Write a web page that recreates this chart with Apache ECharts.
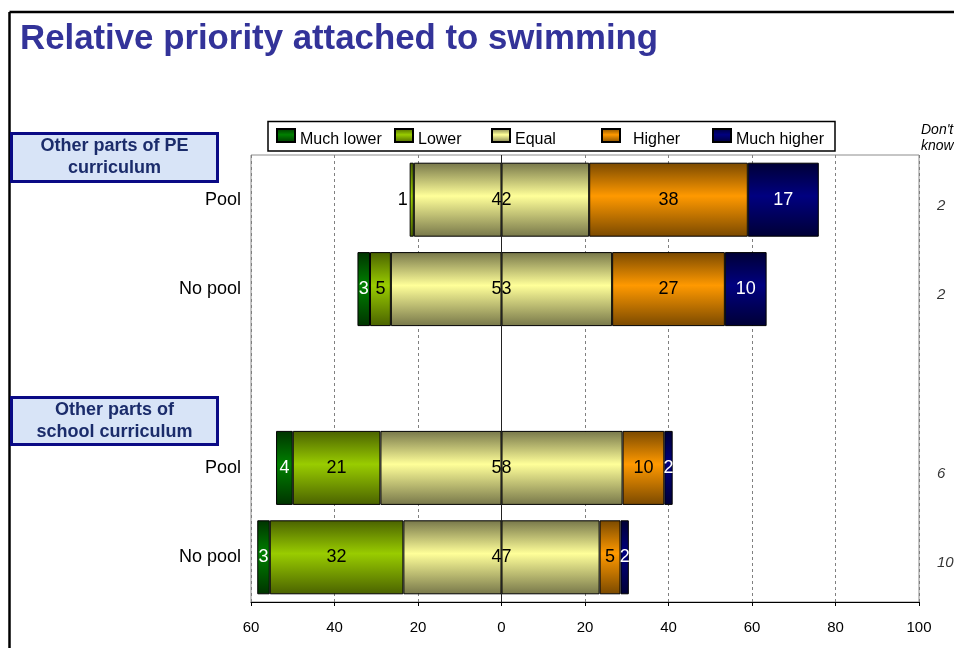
<!DOCTYPE html>
<html>
<head>
<meta charset="utf-8">
<script src="https://cdn.jsdelivr.net/npm/echarts@6/dist/echarts.min.js"></script>
<style>
  html, body { margin: 0; padding: 0; background: #ffffff; }
  #chart { width: 954px; height: 648px; }
</style>
</head>
<body>
<div id="chart"></div>
<script>
// Survey rows (top to bottom); the empty slot separates the two groups
const categories = ['pePool', 'peNoPool', 'gap', 'schoolPool', 'schoolNoPool'];
const categoryLabels = ['Pool', 'No pool', '', 'Pool', 'No pool'];

// Percentages per answer
const muchLower  = [null, 3, null, 4, 3];
const lower      = [1, 5, null, 21, 32];
const equal      = [42, 53, null, 58, 47];
const higher     = [38, 27, null, 10, 5];
const muchHigher = [17, 10, null, 2, 2];
const dontKnow   = [2, 2, null, 6, 10];

const legendNames = ['Much lower', 'Lower', 'Equal', 'Higher', 'Much higher'];
const axisMin = -60, axisMax = 100, axisStep = 20;

const FONT = '"Liberation Sans", Arial, sans-serif';

function shade(dark, light) {
  return {
    type: 'linear', x: 0, y: 0, x2: 0, y2: 1,
    colorStops: [
      { offset: 0, color: dark },
      { offset: 0.45, color: light },
      { offset: 1, color: dark }
    ]
  };
}

const fills = {
  'Much lower': shade('#003300', '#008000'),
  'Lower': shade('#4a6200', '#99cc00'),
  'Equal': shade('#77774a', '#ffff99'),
  'Higher': shade('#7a4900', '#ff9900'),
  'Much higher': shade('#000035', '#000080')
};

const toNeg = arr => arr.map(v => (v == null ? '-' : -v));
const toPos = arr => arr.map(v => (v == null ? '-' : v));

const labelBase = {
  show: true,
  fontFamily: FONT,
  fontSize: 18,
  color: '#000'
};

function barSeries(name, data, labelColor, extra) {
  return Object.assign({
    name: name,
    type: 'bar',
    stack: 'total',
    barWidth: 74,
    data: data,
    itemStyle: { color: fills[name], borderColor: '#000', borderWidth: 1 },
    label: Object.assign({}, labelBase, {
      position: 'inside',
      color: labelColor,
      formatter: p => Math.abs(p.value)
    }),
    emphasis: { disabled: true }
  }, extra || {});
}

// Equal is split around zero so the bars diverge from the centre line
const equalLeft = barSeries('Equal', equal.map(v => (v == null ? '-' : -v / 2)), '#000', {
  label: { show: false }
});
const equalRight = barSeries('Equal', equal.map(v => (v == null ? '-' : v / 2)), '#000', {
  label: Object.assign({}, labelBase, {
    position: [0, '50%'],
    align: 'center',
    verticalAlign: 'middle',
    formatter: p => equal[p.dataIndex]
  })
});

// Small "Lower" shares get their label outside the bar
const lowerData = lower.map(v => {
  if (v == null) return '-';
  if (v < 2) return { value: -v, label: { position: 'left', distance: 2 } };
  return -v;
});

const lowerSeries = barSeries('Lower', lowerData, '#000');
const muchLowerSeries = barSeries('Much lower', toNeg(muchLower), '#fff');
const higherSeries = barSeries('Higher', toPos(higher), '#000');
const muchHigherSeries = barSeries('Much higher', toPos(muchHigher), '#fff', {
  markLine: {
    silent: true,
    symbol: ['none', 'none'],
    label: { show: false },
    lineStyle: { color: '#222', width: 1, type: 'solid' },
    data: [{ xAxis: 0 }],
    animation: false
  }
});

// "Don't know" column sits just right of the plot
const dkData = [];
dontKnow.forEach((v, i) => { if (v != null) dkData.push([axisMax, i, v]); });
const dontKnowSeries = {
  name: 'dk',
  type: 'scatter',
  symbolSize: 0,
  clip: false,
  itemStyle: { color: 'rgba(0,0,0,0)' },
  data: dkData,
  label: {
    show: true,
    position: 'right',
    distance: 18,
    offset: [0, 6],
    fontFamily: FONT,
    fontSize: 15,
    fontStyle: 'italic',
    color: '#000',
    formatter: p => p.value[2]
  },
  emphasis: { disabled: true }
};

const legendIconX = [276, 394, 491, 601, 712];
const legends = legendNames.map((n, i) => ({
  data: [{ name: n, icon: 'rect' }],
  left: legendIconX[i],
  top: 128,
  padding: 0,
  itemWidth: 18,
  itemHeight: 13,
  selectedMode: false,
  formatter: '{t|{name}}',
  textStyle: {
    fontFamily: FONT,
    fontSize: 16,
    color: '#000',
    padding: n === 'Higher' ? [0, 0, 0, 8] : 0,
    rich: {
      t: {
        fontFamily: FONT,
        fontSize: 16,
        color: '#000',
        padding: [8, 0, 0, 0]
      }
    }
  }
}));

function groupBox(top, height, text) {
  return {
    type: 'group',
    left: 10,
    top: top,
    children: [
      {
        type: 'rect',
        shape: { x: 1.5, y: 1.5, width: 206, height: height - 3 },
        style: { fill: '#d8e4f7', stroke: '#0a0a85', lineWidth: 3 }
      },
      {
        type: 'text',
        x: 104.5,
        y: height / 2,
        style: {
          text: text,
          fill: '#1b2c6b',
          font: 'bold 18px ' + FONT,
          align: 'center',
          verticalAlign: 'middle',
          lineHeight: 22
        }
      }
    ]
  };
}

const chart = echarts.init(document.getElementById('chart'), null, { renderer: 'canvas' });

chart.setOption({
  animation: false,
  backgroundColor: '#ffffff',
  title: {
    text: 'Relative priority attached to swimming',
    left: 20,
    top: 22,
    padding: 0,
    textStyle: { fontFamily: FONT, fontSize: 34.8, fontWeight: 'bold', color: '#333399' }
  },
  legend: legends,
  grid: {
    left: 251,
    right: 35,
    top: 155,
    bottom: 46,
    show: true,
    borderColor: '#8c8c8c',
    borderWidth: 1,
    backgroundColor: 'transparent',
    outerBoundsMode: 'none'
  },
  xAxis: {
    type: 'value',
    min: axisMin,
    max: axisMax,
    interval: axisStep,
    axisLine: { show: true, lineStyle: { color: '#000', width: 1 } },
    axisTick: { show: true, length: 4, lineStyle: { color: '#000' } },
    axisLabel: {
      fontFamily: FONT,
      fontSize: 15,
      color: '#000',
      margin: 18,
      formatter: v => Math.abs(v)
    },
    splitLine: { show: true, lineStyle: { color: '#808080', type: [3, 3], width: 1 } }
  },
  yAxis: {
    type: 'category',
    inverse: true,
    data: categories,
    axisLine: { show: false },
    axisTick: { show: false },
    axisLabel: {
      fontFamily: FONT,
      fontSize: 18,
      color: '#000',
      margin: 10,
      formatter: (v, i) => categoryLabels[i]
    }
  },
  series: [equalLeft, equalRight, lowerSeries, muchLowerSeries, higherSeries, muchHigherSeries, dontKnowSeries],
  graphic: [
    // page frame
    { type: 'line', shape: { x1: 9.5, y1: 12, x2: 954, y2: 12 }, style: { stroke: '#000', lineWidth: 2.5 } },
    { type: 'line', shape: { x1: 9.5, y1: 12, x2: 9.5, y2: 648 }, style: { stroke: '#000', lineWidth: 2.5 } },
    // legend frame
    {
      type: 'rect', z: -1,
      shape: { x: 268, y: 121.5, width: 567, height: 29.5 },
      style: { fill: '#fff', stroke: '#000', lineWidth: 1.5 }
    },
    groupBox(132, 51, 'Other parts of PE\ncurriculum'),
    groupBox(396, 50, 'Other parts of\nschool curriculum'),
    {
      type: 'text',
      left: 921,
      top: 122,
      style: {
        text: "Don't\nknow",
        font: 'italic 14px ' + FONT,
        fill: '#000',
        lineHeight: 16
      }
    }
  ]
});
</script>
</body>
</html>
